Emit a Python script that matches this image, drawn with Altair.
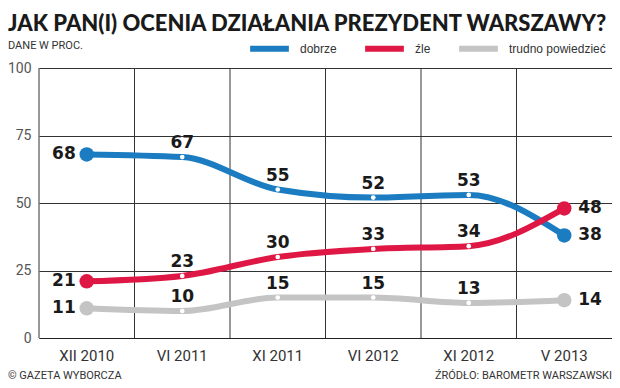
import altair as alt
import pandas as pd

categories = ["XII 2010", "VI 2011", "XI 2011", "VI 2012", "XI 2012", "V 2013"]
series_names = ["dobrze", "źle", "trudno powiedzieć"]
dobrze = [68, 67, 55, 52, 53, 38]
zle = [21, 23, 30, 33, 34, 48]
trudno = [11, 10, 15, 15, 13, 14]
colors = ["#1b7cc1", "#de1744", "#c4c4c4"]
y_ticks = [0, 25, 50, 75, 100]

rows = []
for name, vals in zip(series_names, [dobrze, zle, trudno]):
    for i, (c, v) in enumerate(zip(categories, vals)):
        pos = "first" if i == 0 else ("last" if i == len(vals) - 1 else "mid")
        rows.append({"okres": c, "seria": name, "wartosc": v, "pos": pos})
df = pd.DataFrame(rows)
cat_df = pd.DataFrame({"okres": categories})
foot_df = pd.DataFrame({"t": ["© GAZETA WYBORCZA", "ŹRÓDŁO: BAROMETR WARSZAWSKI"]})

NARROW = "Roboto, Liberation Sans, sans-serif"
ARIAL = "Liberation Sans, Arial, sans-serif"
BOLD = "DejaVu Sans, Liberation Sans, sans-serif"

xscale = alt.Scale(type="band", domain=categories, paddingInner=0, paddingOuter=0)
yscale = alt.Scale(domain=[0, 100], nice=False)
cscale = alt.Scale(domain=series_names, range=colors)

X = alt.X("okres:N", scale=xscale, sort=categories, bandPosition=0.5,
          axis=alt.Axis(title=None, grid=False, ticks=False, domain=True,
                        domainColor="#222", domainWidth=1.2, labelAngle=0,
                        labelAlign="center", labelBaseline="top",
                        labelFont=NARROW, labelFontSize=15, labelColor="#333",
                        labelPadding=10))
Y = alt.Y("wartosc:Q", scale=yscale,
          axis=alt.Axis(title=None, values=y_ticks, grid=True, gridColor="#333",
                        gridWidth=1, domain=False, ticks=False, labelFont=NARROW,
                        labelFontSize=14, labelColor="#555", labelPadding=8))

base = alt.Chart(df)

vrules = alt.Chart(cat_df).mark_rule(color="#333", strokeWidth=1).encode(
    x=alt.X("okres:N", scale=xscale, sort=categories, bandPosition=0)
)

lines = base.mark_line(strokeWidth=6, interpolate="monotone", strokeCap="round").encode(
    x=X, y=Y,
    color=alt.Color("seria:N", scale=cscale, sort=series_names,
                    legend=alt.Legend(title=None, orient="none", direction="horizontal",
                                      legendX=208, legendY=-42, columnPadding=16,
                                      symbolType="stroke", symbolSize=1500,
                                      symbolStrokeWidth=6, labelFont=ARIAL,
                                      labelFontSize=12, labelColor="#333",
                                      labelOffset=8, labelLimit=200)),
    detail="seria:N",
)

fscale = alt.Scale(domain=series_names, range=colors)
end_pts = base.transform_filter("datum.pos != 'mid'").mark_circle(size=210, opacity=1).encode(
    x=X, y=Y, fill=alt.Fill("seria:N", scale=fscale, legend=None)
)
mid_pts = base.transform_filter("datum.pos == 'mid'").mark_circle(
    size=22, opacity=1, color="white").encode(x=X, y=Y)

txt_style = dict(font=BOLD, fontSize=17, fontWeight="bold", color="#1a1a1a")
t_first = base.transform_filter("datum.pos == 'first'").mark_text(
    align="right", baseline="middle", dx=-11, **txt_style).encode(x=X, y=Y, text="wartosc:Q")
t_mid = base.transform_filter("datum.pos == 'mid'").mark_text(
    align="center", baseline="alphabetic", dy=-9, **txt_style).encode(x=X, y=Y, text="wartosc:Q")
t_last = base.transform_filter("datum.pos == 'last'").mark_text(
    align="left", baseline="middle", dx=14, **txt_style).encode(x=X, y=Y, text="wartosc:Q")

foot_l = alt.Chart(foot_df).transform_filter("datum.t[0] == '©'").mark_text(
    align="left", baseline="middle", font=NARROW, fontSize=11, color="#333").encode(
    text="t:N", x=alt.value(-31), y=alt.value(308))
foot_r = alt.Chart(foot_df).transform_filter("datum.t[0] != '©'").mark_text(
    align="right", baseline="middle", font=NARROW, fontSize=11, color="#333").encode(
    text="t:N", x=alt.value(573), y=alt.value(308))

chart = alt.layer(vrules, lines, end_pts, mid_pts, t_first, t_mid, t_last, foot_l, foot_r).properties(
    width=573, height=270,
    padding={"left": 31, "top": 60, "right": 0, "bottom": 45},
    autosize=alt.AutoSizeParams(type="none"),
    title=alt.TitleParams(
        text="JAK PAN(I) OCENIA DZIAŁANIA PREZYDENT WARSZAWY?",
        subtitle="DANE W PROC.",
        anchor="start", frame="group", dx=-31, dy=25, offset=-1,
        font="Lato, Roboto, sans-serif", limit=800,
        fontSize=22, fontWeight=900, color="#1a1a1a",
        subtitleFont=NARROW, subtitleFontSize=11, subtitleColor="#333",
        subtitlePadding=4,
    ),
    background="white",
).configure_view(stroke=None)

chart.save("out.html", embed_options={"renderer": "svg", "actions": False})
